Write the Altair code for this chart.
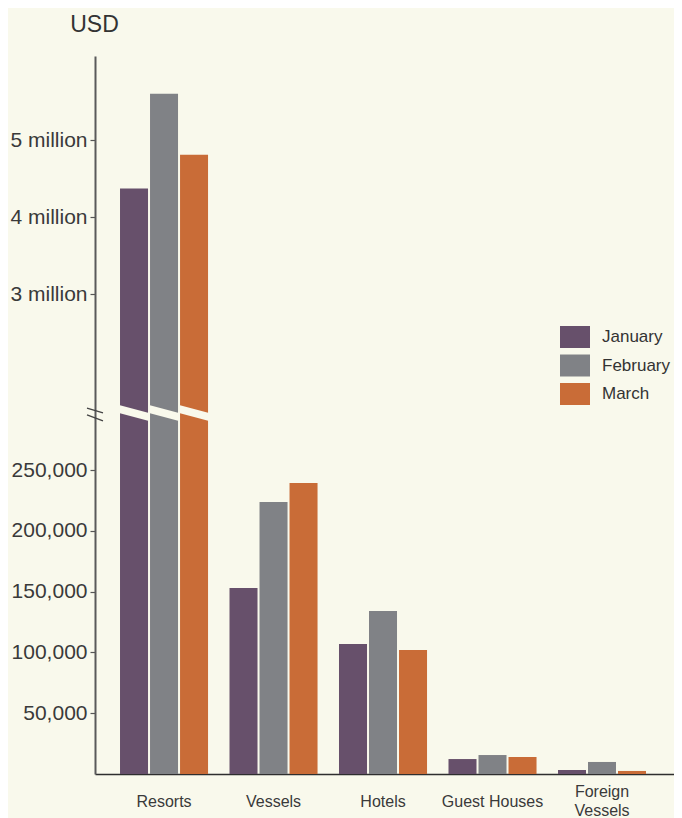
import altair as alt
import pandas as pd

# ---- data ----
categories = ["Resorts", "Vessels", "Hotels", "Guest Houses", "Foreign Vessels"]
months = ["January", "February", "March"]
january = [4370000, 153000, 107000, 12300, 3300]
february = [5600000, 223700, 134000, 15600, 9900]
march = [4810000, 239300, 102000, 14000, 2500]
lower_ticks = [50000, 100000, 150000, 200000, 250000]
upper_ticks = [3000000, 4000000, 5000000]
colors = ["#67506b", "#808286", "#c96c37"]

BG = "#f9f9ec"

# ---- broken-axis scale parameters (display units) ----
LOW_K = 304 / 250000          # display units per USD below the break
LOW_MAX = 300000
UP_BASE = 3000000
UP_D0 = 480
UP_K = 77 / 1000000           # display units per USD above the break
BREAK_D = 361
AXIS_BREAK_D = 359.5
D_MAX = 718


def disp(v):
    return v * LOW_K if v <= LOW_MAX else UP_D0 + (v - UP_BASE) * UP_K


rows = []
for m, vals in zip(months, [january, february, march]):
    for c, v in zip(categories, vals):
        rows.append({"category": c, "month": m, "usd": v})
df = pd.DataFrame(rows)

calc = f"datum.usd <= {LOW_MAX} ? datum.usd * {LOW_K} : {UP_D0} + (datum.usd - {UP_BASE}) * {UP_K}"
y_values = [disp(v) for v in lower_ticks + upper_ticks]
label_expr = (
    f"datum.value > {BREAK_D} ? format(({UP_BASE} + (datum.value - {UP_D0}) / {UP_K}) / 1000000, '.0f') + ' million'"
    f" : format(round(datum.value / {LOW_K}), ',')"
)

FONT = "Liberation Sans"

y_enc = alt.Y(
    "d:Q",
    scale=alt.Scale(domain=[0, D_MAX], nice=False, zero=True),
    axis=alt.Axis(
        values=y_values,
        labelExpr=label_expr,
        title="USD",
        titleAngle=0,
        titleX=-1,
        titleY=-25,
        titleAlign="center",
        titleBaseline="alphabetic",
        titleFontSize=23,
        titleFontWeight="normal",
        titleColor="#333333",
        titleFont=FONT,
        labelFont=FONT,
        labelFontSize=21,
        labelColor="#3a3a3a",
        labelPadding=3,
        tickSize=5,
        tickColor="#555555",
        tickWidth=1.2,
        domainColor="#5a5a5a",
        domainWidth=2,
        grid=False,
        labelOverlap=False,
    ),
)

x_enc = alt.X(
    "category:N",
    sort=categories,
    scale=alt.Scale(paddingInner=0.196, paddingOuter=0.242, align=0.472),
    axis=alt.Axis(
        title=None,
        labelAngle=0,
        labelExpr="datum.label == 'Foreign Vessels' ? ['Foreign', 'Vessels'] : datum.label",
        labelFont=FONT,
        labelFontSize=16,
        labelColor="#3a3a3a",
        labelLineHeight=19,
        labelBaseline="middle",
        labelPadding={"condition": {"test": "datum.label == 'Foreign Vessels'", "value": 17.5}, "value": 27},
        ticks=False,
        tickSize=0,
        domainColor="#2e2e2e",
        domainWidth=1.6,
        labelLimit=200,
    ),
)

xoff_enc = alt.XOffset("month:N", sort=months, scale=alt.Scale(paddingInner=0.0667, paddingOuter=0))

RECT_PATH = "M-1.364,-1 L1.364,-1 L1.364,1 L-1.364,1 Z"

bars = (
    alt.Chart(df)
    .transform_calculate(d=calc)
    .mark_bar()
    .encode(
        x=x_enc,
        xOffset=xoff_enc,
        y=y_enc,
        color=alt.Color(
            "month:N",
            sort=months,
            scale=alt.Scale(domain=months, range=colors),
            legend=alt.Legend(
                title=None,
                orient="none",
                legendX=465,
                legendY=270,
                symbolType=RECT_PATH,
                symbolSize=484,
                symbolStrokeWidth=0,
                symbolOffset=4,
                labelOffset=16,
                labelFont=FONT,
                labelFontSize=17,
                labelColor="#333333",
                rowPadding=6.5,
                padding=0,
            ),
        ),
    )
)

SLASH_PATH = "M-1,-0.533 L1,0 L1,0.533 L-1,0 Z"
slashes = (
    alt.Chart(df)
    .transform_filter(alt.datum.category == categories[0])
    .transform_calculate(d=str(BREAK_D))
    .mark_point(shape=SLASH_PATH, size=900, filled=True, fill=BG, strokeWidth=0, opacity=1)
    .encode(x=x_enc, xOffset=xoff_enc, y=y_enc)
)

BREAK_PATH = "M-1,-0.81 L1,-0.19 M-1,0.06 L1,0.81"
axis_break = (
    alt.Chart(pd.DataFrame({"d": [AXIS_BREAK_D]}))
    .mark_point(shape=BREAK_PATH, size=256, filled=False, stroke="#444444", strokeWidth=1.3, opacity=1)
    .encode(x=alt.value(0), y=y_enc)
)

chart = (
    alt.layer(bars, slashes, axis_break)
    .properties(
        width=579,
        height=D_MAX,
        background=BG,
        padding={"left": 87, "top": 48, "right": 0, "bottom": 44},
        autosize=alt.AutoSizeParams(type="none"),
    )
    .configure_view(stroke=None)
)

chart.save("out.html", embed_options={"renderer": "svg", "actions": False})
